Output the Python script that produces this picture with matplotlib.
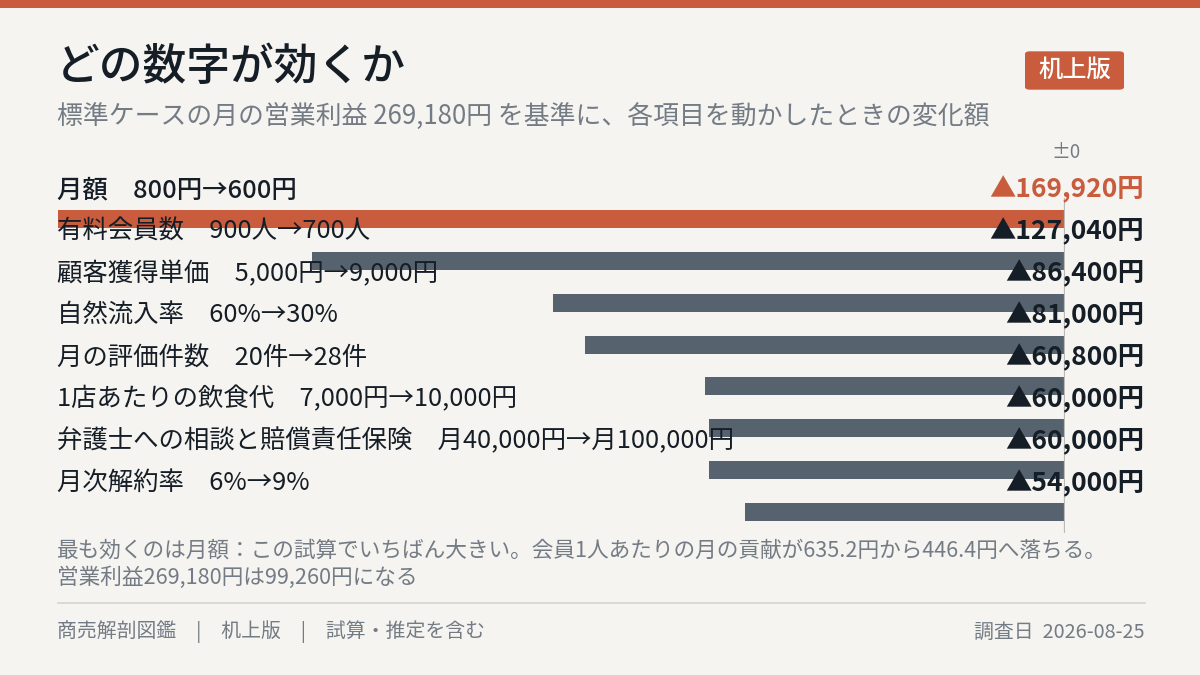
import matplotlib
matplotlib.use("Agg")
import matplotlib.pyplot as plt
from matplotlib.patches import Rectangle, FancyBboxPatch
from matplotlib.lines import Line2D
import matplotlib.transforms as mtransforms

plt.rcParams['font.family'] = ['Noto Sans CJK JP', 'DejaVu Sans']

# ---- data ----
labels = [
    "月額　800円→600円",
    "有料会員数　900人→700人",
    "顧客獲得単価　5,000円→9,000円",
    "自然流入率　60%→30%",
    "月の評価件数　20件→28件",
    "1店あたりの飲食代　7,000円→10,000円",
    "弁護士への相談と賠償責任保険　月40,000円→月100,000円",
    "月次解約率　6%→9%",
]
values = [-169920, -127040, -86400, -81000, -60800, -60000, -60000, -54000]
value_labels = ["▲169,920円", "▲127,040円", "▲86,400円", "▲81,000円",
                "▲60,800円", "▲60,000円", "▲60,000円", "▲54,000円"]
highlight = 0

title = "どの数字が効くか"
subtitle = "標準ケースの月の営業利益 269,180円 を基準に、各項目を動かしたときの変化額"
badge = "机上版"
zero_label = "±0"
note_lines = ["最も効くのは月額：この試算でいちばん大きい。会員1人あたりの月の貢献が635.2円から446.4円へ落ちる。",
              "営業利益269,180円は99,260円になる"]
footer_left = "商売解剖図鑑　|　机上版　|　試算・推定を含む"
footer_right = "調査日  2026-08-25"

# ---- style ----
BG = "#f5f4f0"
ORANGE = "#c85c3c"
BAR = "#56636f"
DARK = "#151d26"
GRAY = "#737b85"
RULE = "#d6d4cf"

W, H = 1200, 675
fig = plt.figure(figsize=(12, 6.75), dpi=100, facecolor=BG)

def fx(px):
    return px / W

def fy(py):
    return 1 - py / H

# top band
fig.patches.append(Rectangle((0, fy(8)), 1, 8 / H, transform=fig.transFigure,
                             facecolor=ORANGE, edgecolor="none", zorder=0))

fig.text(fx(56), fy(68), title, fontsize=31.5, fontweight="medium", color=DARK,
         ha="left", va="center")
fig.text(fx(57), fy(117), subtitle, fontsize=18.6, color=GRAY, ha="left", va="center")

# badge
bx0, bx1, by0, by1 = 1025, 1124, 50, 91
fig.patches.append(FancyBboxPatch((fx(bx0 + 3), fy(by1 - 3)), (bx1 - bx0 - 6) / W, (by1 - by0 - 6) / H,
                                  boxstyle="round,pad=0.0025,rounding_size=0.004",
                                  transform=fig.transFigure, facecolor=ORANGE,
                                  edgecolor="none", zorder=1))
fig.text(fx((bx0 + bx1) / 2), fy((by0 + by1) / 2 - 1), badge, fontsize=17.5,
         fontweight="medium", color="white", ha="center", va="center", zorder=2)

# ---- bars axes ----
ax_left, ax_right, ax_top, ax_bot = 58, 1065, 198, 533
ax = fig.add_axes([fx(ax_left), fy(ax_bot), (ax_right - ax_left) / W, (ax_bot - ax_top) / H])
ax.set_facecolor("none")
n = len(values)
ypos = list(range(n))
colors = [ORANGE if i == highlight else BAR for i in range(n)]
ax.barh(ypos, values, height=18 / 42, color=colors, zorder=2)
ax.set_xlim(min(values), 0)
ax.set_ylim(n - 0.5, -0.5)
ax.axvline(0, color="#b9b9b6", lw=1.6, zorder=3)
for s in ax.spines.values():
    s.set_visible(False)
ax.set_xticks([])
ax.set_yticks([])

label_off = 29 / 42
tr_lab = mtransforms.blended_transform_factory(ax.transAxes, ax.transData)
tr_val = mtransforms.blended_transform_factory(fig.transFigure, ax.transData)
for i in range(n):
    ax.text(-0.001, i - label_off, labels[i], transform=tr_lab, fontsize=18.3,
            fontweight="medium" if i == highlight else "normal",
            color=DARK, ha="left", va="center", zorder=4)
    ax.text(fx(1144), i - label_off, value_labels[i], transform=tr_val, fontsize=19,
            fontweight="bold", color=ORANGE if i == highlight else DARK,
            ha="right", va="center", zorder=4)

fig.text(fx(1066), fy(153), zero_label, fontsize=13.5, color=GRAY, ha="center", va="center")

# ---- notes & footer ----
fig.text(fx(57), fy(551), note_lines[0], fontsize=15.6, color=GRAY, ha="left", va="center")
fig.text(fx(57), fy(578), note_lines[1], fontsize=15.6, color=GRAY, ha="left", va="center")
fig.lines.append(Line2D([fx(58), fx(1145)], [fy(603), fy(603)], transform=fig.transFigure,
                        color=RULE, lw=1.2))
fig.text(fx(57), fy(632), footer_left, fontsize=14.3, color=GRAY, ha="left", va="center")
fig.text(fx(1144), fy(632), footer_right, fontsize=14.3, color=GRAY, ha="right", va="center")

fig.savefig("out.png", dpi=100, facecolor=BG)
